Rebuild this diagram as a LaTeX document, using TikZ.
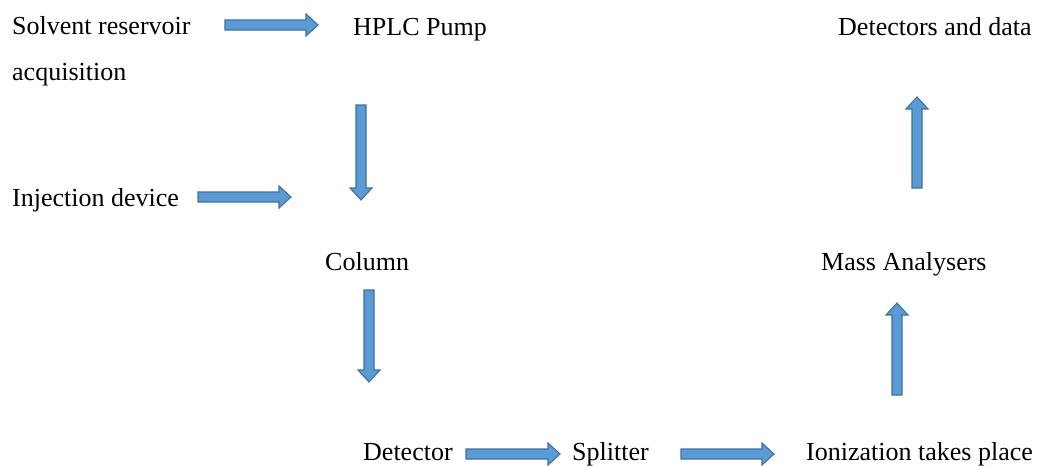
\documentclass[tikz,border=0pt]{standalone}
\usepackage{fontspec}
\setmainfont{Liberation Serif}
\usetikzlibrary{calc}
\definecolor{arrowfill}{RGB}{91,155,213}
\definecolor{arrowline}{RGB}{65,113,156}
\begin{document}
\begin{tikzpicture}[x=1pt,y=-1pt,
  lbl/.style={anchor=base west, inner sep=0pt, font=\fontsize{26}{30}\selectfont},
  blockarrow/.style={draw=arrowline, fill=arrowfill, line width=1.1pt, line join=miter,
    to path={
      ($(\tikztostart)!5pt!90:(\tikztotarget)$) --
      ($(\tikztotarget)!12pt!(\tikztostart)!5pt!-90:(\tikztostart)$) --
      ($(\tikztotarget)!12pt!(\tikztostart)!11pt!-90:(\tikztostart)$) --
      (\tikztotarget) --
      ($(\tikztotarget)!12pt!(\tikztostart)!11pt!90:(\tikztostart)$) --
      ($(\tikztotarget)!12pt!(\tikztostart)!5pt!90:(\tikztostart)$) --
      ($(\tikztostart)!5pt!-90:(\tikztotarget)$) -- cycle
    }}]
\fill[white] (0,0) rectangle (1037,466);
\useasboundingbox (0,0) rectangle (1037,466);

% labels
\node[lbl] (solvent) at (12,34) {Solvent reservoir};
\node[lbl] (acq) at (12,80) {acquisition};
\node[lbl] (pump) at (353,35) {HPLC Pump};
\node[lbl] (detdata) at (838,35) {Detectors and data};
\node[lbl] (inj) at (12,206) {Injection device};
\node[lbl] (column) at (325,270) {Column};
\node[lbl] (mass) at (821,270) {Mass Analysers};
\node[lbl] (detector) at (363,460) {Detector};
\node[lbl] (splitter) at (572,460) {Splitter};
\node[lbl] (ion) at (806,460) {Ionization takes place};

% arrow end points
\coordinate (a1s) at (225,25);  \coordinate (a1e) at (318,25);
\coordinate (a2s) at (361,105); \coordinate (a2e) at (361,200);
\coordinate (a3s) at (198,197); \coordinate (a3e) at (291,197);
\coordinate (a4s) at (369,290); \coordinate (a4e) at (369,382);
\coordinate (a5s) at (466,454); \coordinate (a5e) at (560,454);
\coordinate (a6s) at (681,454); \coordinate (a6e) at (774,454);
\coordinate (a7s) at (897,395); \coordinate (a7e) at (897,303);
\coordinate (a8s) at (917,188); \coordinate (a8e) at (917,97);

\draw[blockarrow] (a1s) to (a1e);
\draw[blockarrow] (a2s) to (a2e);
\draw[blockarrow] (a3s) to (a3e);
\draw[blockarrow] (a4s) to (a4e);
\draw[blockarrow] (a5s) to (a5e);
\draw[blockarrow] (a6s) to (a6e);
\draw[blockarrow] (a7s) to (a7e);
\draw[blockarrow] (a8s) to (a8e);
\end{tikzpicture}
\end{document}
